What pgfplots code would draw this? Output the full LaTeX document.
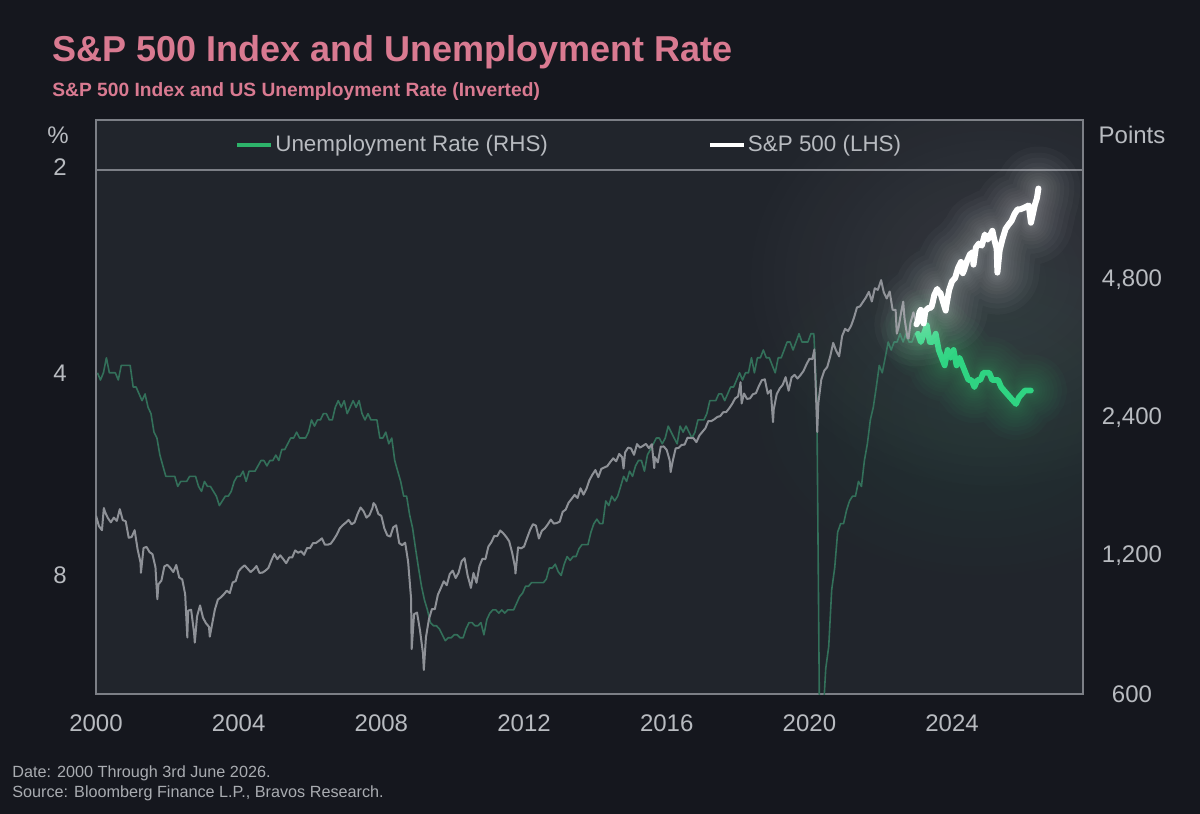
\documentclass[border=0pt]{standalone}
\usepackage{pgfplots}
\pgfplotsset{compat=1.18}
\usepackage{pgfplotstable}
\usepackage{fontspec}
\setmainfont{Liberation Sans}
\usetikzlibrary{fadings}
\tikzfading[name=glowfade, inner color=transparent!0, outer color=transparent!100]

\definecolor{bg}{HTML}{15171E}
\definecolor{plotbg}{HTML}{21252C}
\definecolor{framec}{HTML}{7C7F86}
\definecolor{tickc}{HTML}{B8BBC0}
\definecolor{pinkc}{HTML}{D97A91}
\definecolor{dimgreen}{HTML}{33705A}
\definecolor{brightgreen}{HTML}{2FD482}
\definecolor{legendgreen}{HTML}{2DB36A}
\definecolor{spgray}{HTML}{8E9197}
\definecolor{footc}{HTML}{A9ACB1}

% S&P 500 (before highlight)
\pgfplotstableread{
x y
2000.000 1469
2000.083 1394
2000.167 1366
2000.220 1527
2000.250 1499
2000.333 1452
2000.417 1421
2000.500 1455
2000.583 1431
2000.667 1518
2000.750 1437
2000.833 1429
2000.917 1315
2001.000 1320
2001.083 1366
2001.167 1240
2001.250 1160
2001.260 1103
2001.333 1249
2001.417 1256
2001.500 1224
2001.583 1211
2001.667 1134
2001.720 966
2001.750 1041
2001.833 1060
2001.917 1139
2002.000 1148
2002.083 1130
2002.167 1107
2002.250 1147
2002.333 1077
2002.417 1067
2002.500 990
2002.560 797
2002.583 912
2002.667 916
2002.750 815
2002.770 777
2002.833 886
2002.917 936
2003.000 880
2003.083 856
2003.167 841
2003.190 800
2003.250 848
2003.333 917
2003.417 964
2003.500 975
2003.583 990
2003.667 1008
2003.750 996
2003.833 1051
2003.917 1058
2004.000 1112
2004.083 1131
2004.167 1145
2004.250 1126
2004.333 1107
2004.417 1121
2004.500 1141
2004.583 1102
2004.667 1104
2004.750 1115
2004.833 1130
2004.917 1174
2005.000 1212
2005.083 1181
2005.167 1204
2005.250 1181
2005.333 1157
2005.417 1191
2005.500 1191
2005.583 1234
2005.667 1220
2005.750 1229
2005.833 1207
2005.917 1249
2006.000 1248
2006.083 1280
2006.167 1281
2006.250 1295
2006.333 1311
2006.417 1270
2006.500 1270
2006.583 1277
2006.667 1304
2006.750 1336
2006.833 1378
2006.917 1401
2007.000 1418
2007.083 1438
2007.167 1407
2007.250 1421
2007.333 1482
2007.417 1531
2007.500 1503
2007.583 1455
2007.667 1474
2007.750 1527
2007.780 1565
2007.833 1549
2007.917 1481
2008.000 1468
2008.083 1379
2008.167 1331
2008.250 1323
2008.333 1386
2008.417 1400
2008.500 1280
2008.583 1267
2008.667 1283
2008.750 1166
2008.833 969
2008.850 752
2008.917 896
2009.000 903
2009.083 826
2009.167 735
2009.190 677
2009.250 798
2009.333 873
2009.417 919
2009.500 919
2009.583 987
2009.667 1021
2009.750 1057
2009.833 1036
2009.917 1096
2010.000 1115
2010.083 1074
2010.167 1104
2010.250 1169
2010.333 1187
2010.417 1089
2010.500 1031
2010.510 1022
2010.583 1102
2010.667 1049
2010.750 1141
2010.833 1183
2010.917 1181
2011.000 1258
2011.083 1286
2011.167 1327
2011.250 1326
2011.333 1364
2011.417 1345
2011.500 1321
2011.583 1292
2011.667 1219
2011.750 1131
2011.760 1099
2011.833 1253
2011.917 1247
2012.000 1258
2012.083 1312
2012.167 1366
2012.250 1408
2012.333 1398
2012.417 1310
2012.500 1362
2012.583 1379
2012.667 1407
2012.750 1441
2012.833 1412
2012.917 1416
2013.000 1426
2013.083 1498
2013.167 1515
2013.250 1569
2013.333 1598
2013.417 1631
2013.500 1606
2013.583 1686
2013.667 1633
2013.750 1682
2013.833 1757
2013.917 1806
2014.000 1848
2014.083 1783
2014.167 1859
2014.250 1872
2014.333 1884
2014.417 1924
2014.500 1960
2014.583 1931
2014.667 2003
2014.750 1972
2014.790 1862
2014.833 2018
2014.917 2068
2015.000 2059
2015.083 1995
2015.167 2105
2015.250 2068
2015.333 2086
2015.417 2107
2015.500 2063
2015.583 2104
2015.650 1867
2015.667 1972
2015.750 1920
2015.833 2079
2015.917 2080
2016.000 2044
2016.083 1940
2016.110 1829
2016.167 1932
2016.250 2060
2016.333 2065
2016.417 2097
2016.500 2099
2016.583 2174
2016.667 2171
2016.750 2168
2016.833 2126
2016.917 2199
2017.000 2239
2017.083 2279
2017.167 2364
2017.250 2363
2017.333 2384
2017.417 2412
2017.500 2423
2017.583 2470
2017.667 2472
2017.750 2519
2017.833 2575
2017.917 2648
2018.000 2674
2018.070 2873
2018.100 2581
2018.167 2714
2018.250 2641
2018.333 2648
2018.417 2705
2018.500 2718
2018.583 2816
2018.667 2902
2018.750 2914
2018.833 2712
2018.917 2760
2018.980 2351
2019.000 2507
2019.083 2704
2019.167 2784
2019.250 2834
2019.333 2946
2019.417 2752
2019.500 2942
2019.583 2980
2019.667 2926
2019.750 2977
2019.833 3038
2019.917 3141
2020.000 3231
2020.083 3226
2020.140 3386
2020.167 2954
2020.220 2237
2020.250 2585
2020.333 2912
2020.417 3044
2020.500 3100
2020.583 3271
2020.667 3500
2020.750 3363
2020.833 3270
2020.917 3622
2021.000 3756
2021.083 3714
2021.167 3811
2021.250 3973
2021.333 4181
2021.417 4204
2021.500 4298
2021.583 4395
2021.667 4523
2021.750 4308
2021.833 4605
2021.917 4567
2022.000 4766
2022.010 4797
2022.083 4516
2022.167 4374
2022.250 4530
2022.333 4132
2022.417 4132
2022.450 3667
2022.500 3785
2022.583 4130
2022.630 4305
2022.667 3955
2022.750 3586
2022.780 3577
2022.833 3872
2022.917 4080
2023.000 3840
2023.083 4077
2023.167 3970
}\spGray

% S&P 500 (highlighted recent period)
\pgfplotstableread{
x y
2023.000 3840
2023.040 3900
2023.083 4077
2023.120 4130
2023.167 3970
2023.200 3860
2023.250 4109
2023.333 4169
2023.417 4180
2023.460 4300
2023.500 4450
2023.583 4589
2023.620 4520
2023.667 4508
2023.750 4288
2023.820 4117
2023.833 4194
2023.917 4568
2024.000 4770
2024.083 4846
2024.167 5096
2024.250 5254
2024.300 4967
2024.333 5036
2024.417 5278
2024.500 5460
2024.583 5522
2024.600 5186
2024.667 5648
2024.750 5762
2024.833 5705
2024.917 6032
2025.000 5882
2025.083 6041
2025.130 6144
2025.167 5955
2025.250 5612
2025.270 4982
2025.333 5569
2025.417 5912
2025.500 6205
2025.583 6339
2025.667 6460
2025.750 6688
2025.833 6840
2025.917 6850
2026.000 6890
2026.083 6940
2026.150 6980
2026.210 6400
2026.250 6600
2026.320 7000
2026.380 7250
2026.420 7600
}\spHi

% Unemployment rate, monthly from Jan 2000 to Feb 2023
\pgfplotstableread[row sep=\\]{
u\\
4.0\\4.1\\4.0\\3.8\\4.0\\4.0\\4.0\\4.1\\3.9\\3.9\\3.9\\3.9\\
4.2\\4.2\\4.3\\4.4\\4.3\\4.5\\4.6\\4.9\\5.0\\5.3\\5.5\\5.7\\
5.7\\5.7\\5.7\\5.9\\5.8\\5.8\\5.8\\5.7\\5.7\\5.7\\5.9\\6.0\\
5.8\\5.9\\5.9\\6.0\\6.1\\6.3\\6.2\\6.1\\6.1\\6.0\\5.8\\5.7\\
5.7\\5.6\\5.8\\5.6\\5.6\\5.6\\5.5\\5.4\\5.4\\5.5\\5.4\\5.4\\
5.3\\5.4\\5.2\\5.2\\5.1\\5.0\\5.0\\4.9\\5.0\\5.0\\5.0\\4.9\\
4.7\\4.8\\4.7\\4.7\\4.6\\4.6\\4.7\\4.7\\4.5\\4.4\\4.5\\4.4\\
4.6\\4.5\\4.4\\4.5\\4.4\\4.6\\4.7\\4.6\\4.7\\4.7\\4.7\\5.0\\
5.0\\4.9\\5.1\\5.0\\5.4\\5.6\\5.8\\6.1\\6.1\\6.5\\6.8\\7.3\\
7.8\\8.3\\8.7\\9.0\\9.4\\9.5\\9.5\\9.6\\9.8\\10.0\\9.9\\9.9\\
9.8\\9.8\\9.9\\9.9\\9.6\\9.4\\9.4\\9.5\\9.5\\9.4\\9.8\\9.3\\
9.1\\9.0\\9.0\\9.1\\9.0\\9.1\\9.0\\9.0\\9.0\\8.8\\8.6\\8.5\\
8.3\\8.3\\8.2\\8.2\\8.2\\8.2\\8.2\\8.1\\7.8\\7.8\\7.7\\7.9\\
8.0\\7.7\\7.5\\7.6\\7.5\\7.5\\7.3\\7.2\\7.2\\7.2\\6.9\\6.7\\
6.6\\6.7\\6.7\\6.2\\6.3\\6.1\\6.2\\6.1\\5.9\\5.7\\5.8\\5.6\\
5.7\\5.5\\5.4\\5.4\\5.6\\5.3\\5.2\\5.1\\5.0\\5.0\\5.1\\5.0\\
4.8\\4.9\\5.0\\5.1\\4.8\\4.9\\4.8\\4.9\\5.0\\4.9\\4.7\\4.7\\
4.7\\4.6\\4.4\\4.4\\4.4\\4.3\\4.3\\4.4\\4.3\\4.2\\4.2\\4.1\\
4.0\\4.1\\4.0\\4.0\\3.8\\4.0\\3.8\\3.8\\3.7\\3.8\\3.8\\3.9\\
4.0\\3.8\\3.8\\3.7\\3.6\\3.6\\3.7\\3.6\\3.5\\3.6\\3.6\\3.6\\
3.5\\3.5\\4.4\\14.8\\13.2\\11.0\\10.2\\8.4\\7.8\\6.9\\6.7\\6.7\\
6.4\\6.2\\6.1\\6.1\\5.8\\5.9\\5.4\\5.1\\4.7\\4.5\\4.2\\3.9\\
4.0\\3.8\\3.6\\3.7\\3.6\\3.6\\3.5\\3.6\\3.5\\3.6\\3.6\\3.5\\
3.5\\3.6\\
}\unGray

% Unemployment rate, monthly from Jan 2023 to Mar 2026 (highlighted)
\pgfplotstableread[row sep=\\]{
u\\
3.5\\3.6\\3.5\\3.4\\3.6\\3.6\\3.5\\3.7\\3.8\\3.9\\3.7\\3.8\\
3.7\\3.9\\3.8\\3.9\\4.0\\4.1\\4.1\\4.2\\4.1\\4.1\\4.0\\4.0\\
4.0\\4.1\\4.1\\4.1\\4.2\\4.25\\4.3\\4.35\\4.4\\4.45\\4.35\\4.3\\
4.25\\4.25\\4.25\\
}\unHi

\pgfplotsset{
  base/.style={
    scale only axis, width=493.5pt, height=287pt,
    at={(0,0)}, anchor=south west,
    xmin=2000, xmax=2027.67,
    major tick length=0pt,
    /pgf/number format/assume math mode=true,
    ticklabel style={font=\fontsize{12}{14}\selectfont, text=tickc},
  },
  glow/.style={forget plot, line join=round, line cap=round, #1},
}

\begin{document}
\begin{tikzpicture}
\path[use as bounding box, fill=bg] (-48pt,-60pt) rectangle (552pt,347pt);

% Unemployment axis (left, inverted)
\begin{axis}[base,
  ymode=log, y dir=reverse, ymin=1.685, ymax=12,
  ytick={2,4,8}, yticklabels={\raisebox{2.5pt}{2},4,8},
  xtick={2000,2004,2008,2012,2016,2020,2024},
  xticklabels={2000,2004,2008,2012,2016,2020,2024},
  xticklabel style={anchor=center, yshift=-14.5pt},
  yticklabel style={anchor=center, xshift=-18pt},
  axis background/.style={fill=plotbg},
  axis line style={draw=framec, line width=0.75pt},
  ylabel={\%},
  every axis y label/.style={at={(rel axis cs:0,0.9739)}, xshift=-19pt, anchor=center, font=\fontsize{12}{14}\selectfont, text=tickc},
  legend columns=2,
  legend style={at={(0.1408,0.9564)}, anchor=west, draw=none, fill=none, inner sep=0pt,
    font=\fontsize{11.2}{13}\selectfont,
    nodes={inner sep=1pt},
    /tikz/every even column/.append style={column sep=79pt}},
  legend image code/.code={\draw[#1] (0pt,0pt) -- (17pt,0pt);},
]
% soft background glows
\fill[white, fill opacity=0.09, path fading=glowfade] (axis cs:2025.2,2.9) ellipse [x radius=130pt, y radius=110pt];
\fill[brightgreen, fill opacity=0.08, path fading=glowfade] (axis cs:2024.8,4.5) ellipse [x radius=120pt, y radius=90pt];

\draw[framec, line width=0.75pt] (rel axis cs:0,0.9129) -- (rel axis cs:1,0.9129);

\addlegendimage{legendgreen, line width=2pt}
\addlegendentry{\textcolor{tickc}{Unemployment Rate (RHS)}}
\addlegendimage{white, line width=2pt}
\addlegendentry{\textcolor{tickc}{S\&P 500 (LHS)}}

\addplot[forget plot, dimgreen, line width=0.8pt, line join=round]
  table[x expr={2000+(\coordindex+0.5)/12}, y=u] {\unGray};

\pgfplotsinvokeforeach{36,31,27,23,19.5,16.5,14,11.5,9.5,7.5,6,4.8}{
  \addplot[glow={brightgreen, line width=#1pt, opacity=0.028}] table[x expr={2023+(\coordindex+0.5)/12}, y=u] {\unHi};
}
\addplot[glow={brightgreen, line width=2.9pt}] table[x expr={2023+(\coordindex+0.5)/12}, y=u] {\unHi};
\end{axis}

% S&P 500 axis (right)
\begin{axis}[base,
  ymode=log, ymin=600, ymax=10722,
  axis x line=none, axis y line*=right,
  axis line style={-, draw=framec, line width=0.75pt},
  xtick=\empty,
  ytick={600,1200,2400,4800}, yticklabels={600,{1,200},{2,400},{4,800}},
  yticklabel style={anchor=center, xshift=24.5pt},
  ylabel={Points},
  every axis y label/.style={at={(rel axis cs:1,0.9739)}, xshift=24.5pt, anchor=center, font=\fontsize{12}{14}\selectfont, text=tickc},
]
\addplot[forget plot, spgray, line width=1pt, line join=round] table[x=x, y=y] {\spGray};

\pgfplotsinvokeforeach{42,36,31,26,22,18.5,15.5,12.5,10,8,6.2,4.8}{
  \addplot[glow={white, line width=#1pt, opacity=0.028}] table[x=x, y=y] {\spHi};
}
\addplot[glow={white, line width=3pt}] table[x=x, y=y] {\spHi};
\end{axis}

% titles
\node[anchor=base west, inner sep=0pt, text=pinkc, font=\fontsize{18}{20}\selectfont\bfseries] at (-22pt,316pt) {S\&P 500 Index and Unemployment Rate};
\node[anchor=base west, inner sep=0pt, text=pinkc, font=\fontsize{9.6}{11}\selectfont\bfseries] at (-22pt,298.5pt) {S\&P 500 Index and US Unemployment Rate (Inverted)};

% footer
\node[anchor=base west, inner sep=0pt, text=footc, font=\fontsize{8.1}{9.5}\selectfont] at (-42pt,-41.5pt) {Date: 2000 Through 3rd June 2026.};
\node[anchor=base west, inner sep=0pt, text=footc, font=\fontsize{8.1}{9.5}\selectfont] at (-42pt,-51.5pt) {Source: Bloomberg Finance L.P., Bravos Research.};
\end{tikzpicture}
\end{document}
